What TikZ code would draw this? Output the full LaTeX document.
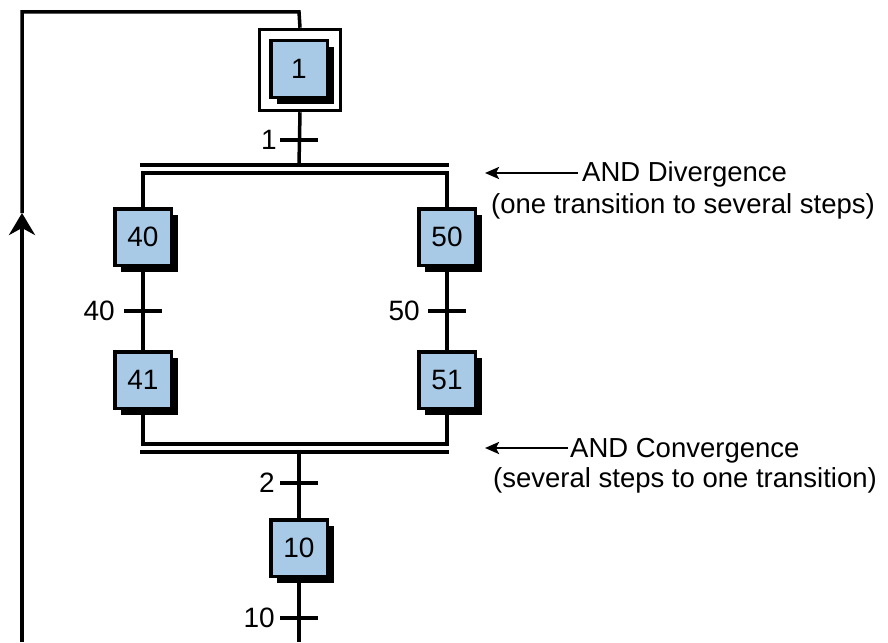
\documentclass[tikz,border=0pt]{standalone}
\usepackage{fontspec}
\usetikzlibrary{arrows.meta,shadows}
\newfontfamily\labfont{Liberation Sans}
\definecolor{stepblue}{RGB}{168,202,230}
\tikzset{
  stepbox/.style={draw, line width=3.5pt, fill=stepblue, minimum size=56.5pt, inner sep=0pt,
    font=\labfont\fontsize{28}{32}\selectfont,
    drop shadow={shadow xshift=6.5pt, shadow yshift=-6.5pt, opacity=1, fill=black}},
  initbox/.style={draw, line width=3pt, minimum size=81.5pt, inner sep=0pt},
  wire/.style={line width=3.5pt},
  tick/.style={line width=3.5pt},
  tlabel/.style={anchor=east, inner sep=0pt, font=\labfont\fontsize{28}{32}\selectfont},
  note/.style={anchor=base west, inner sep=0pt, font=\labfont\fontsize{27.5}{32}\selectfont},
  notearrow/.style={line width=2.5pt, -{Stealth[length=14pt,width=12pt,inset=3pt]}},
}
\begin{document}
\begin{tikzpicture}[x=1pt,y=-1pt]
\useasboundingbox (0,0) rectangle (888,642);
% steps
\node[initbox] (s1o) at (300,70) {};
\node[stepbox] (s1) at (299,69) {1};
\node[stepbox] (s40) at (143,237) {40};
\node[stepbox] (s50) at (447,237) {50};
\node[stepbox] (s41) at (143,380) {41};
\node[stepbox] (s51) at (447,380) {51};
\node[stepbox] (s10) at (299,548) {10};
% coordinates
\coordinate (loopTR) at (299,12);
\coordinate (loopTL) at (22,12);
\coordinate (arrtip) at (22,213);
\coordinate (loopB) at (22,642);
\coordinate (endB) at (299,642);
\coordinate (div1) at (299,165);
\coordinate (div1L) at (140,165);
\coordinate (div1R) at (448.5,165);
\coordinate (div2) at (299,173);
\coordinate (con1) at (299,444);
\coordinate (con2) at (299,452);
\coordinate (con2L) at (140,452);
\coordinate (con2R) at (448.5,452);
\coordinate (t1) at (299,140);
\coordinate (t40) at (143,311);
\coordinate (t50) at (447,311);
\coordinate (t2) at (299,483);
\coordinate (t10) at (299,618);
% loop
\draw[wire] (s1o.north) -- (loopTR) -- (loopTL) -- (arrtip);
\draw[wire, -{Stealth[length=22pt,width=26pt,inset=7pt]}] (loopB) -- (arrtip);
% main flow
\draw[wire] (s1o.south) -- (div1);
\draw[wire] (div1L) -- (div1R);
\draw[wire] (s40.north) |- (div2) -| (s50.north);
\draw[wire] (s40) -- (s41);
\draw[wire] (s50) -- (s51);
\draw[wire] (s41.south) |- (con1) -| (s51.south);
\draw[wire] (con2L) -- (con2R);
\draw[wire] (con2) -- (s10.north);
\draw[wire] (s10.south) -- (endB);
% transitions
\foreach \t in {t1,t40,t50,t2,t10} {
  \draw[tick] ([xshift=-19pt]\t) -- ([xshift=19pt]\t);
}
\node[tlabel] (l1) at (277,140) {1};
\node[tlabel] (l40) at (115,311) {40};
\node[tlabel] (l50) at (420,311) {50};
\node[tlabel] (l2) at (275,483) {2};
\node[tlabel] (l10) at (275,618) {10};
% annotations
\node[note] (n1) at (582,181) {AND Divergence};
\node[note] (n2) at (491,213) {(one transition to several steps)};
\node[note] (n3) at (570,457) {AND Convergence};
\node[note] (n4) at (493,487) {(several steps to one transition)};
\coordinate (a1s) at (578,173);
\coordinate (a1e) at (485,173);
\coordinate (a2s) at (568,448);
\coordinate (a2e) at (485,448);
\draw[notearrow] (a1s) -- (a1e);
\draw[notearrow] (a2s) -- (a2e);
\end{tikzpicture}
\end{document}
